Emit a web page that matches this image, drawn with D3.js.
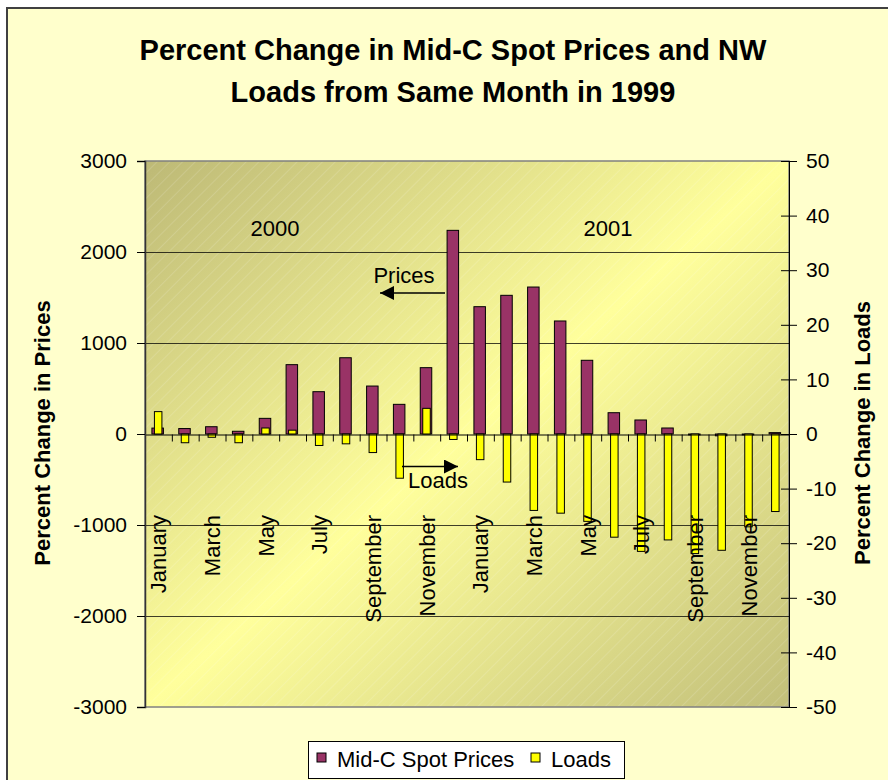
<!DOCTYPE html>
<html>
<head>
<meta charset="utf-8">
<script src="https://cdn.jsdelivr.net/npm/d3@7"></script>
<style>
  body { margin: 0; background: #fff; }
  svg text { font-family: "Liberation Sans", Arial, sans-serif; fill: #000; }
</style>
</head>
<body>
<div id="chart"></div>
<script>
// months of 2000 then 2001, only every other one gets a label
var months = ["January", "February", "March", "April", "May", "June",
  "July", "August", "September", "October", "November", "December"];
var years = ["2000", "2001"];

// % change from same month in 1999
var prices = [65, 60, 80, 30, 172, 762, 465, 838, 527, 326, 729, 2238,
  1399, 1524, 1615, 1242, 810, 234, 154, 66, -10, -20, -10, 15];
var loads = [4.1, -1.6, -0.6, -1.6, 1.1, 0.7, -2.1, -1.8, -3.4, -8.1, 4.7, -1.0,
  -4.7, -8.8, -14.0, -14.5, -16.0, -18.9, -21.5, -19.4, -21.9, -21.3, -17.0, -14.2];

var priceTicks = [-3000, -2000, -1000, 0, 1000, 2000, 3000];
var loadTicks = [-50, -40, -30, -20, -10, 0, 10, 20, 30, 40, 50];
var seriesNames = ["Mid-C Spot Prices", "Loads"];
var colors = ["#993366", "#FFFF00"];

var width = 888, height = 780;
var plot = { left: 145, right: 789, top: 161, bottom: 707 };

var svg = d3.select("#chart").append("svg")
  .attr("width", width).attr("height", height);

// chart frame
svg.append("rect").attr("x", 7).attr("y", 8).attr("width", 900).attr("height", 800)
  .attr("fill", "#FFFFCC").attr("stroke", "#404040").attr("stroke-width", 2);

var defs = svg.append("defs");
var grad = defs.append("linearGradient").attr("id", "plotGrad")
  .attr("x1", 0).attr("y1", 0).attr("x2", 1).attr("y2", 1);
grad.append("stop").attr("offset", 0).attr("stop-color", "#bdb976");
grad.append("stop").attr("offset", 0.5).attr("stop-color", "#ffff9c");
grad.append("stop").attr("offset", 1).attr("stop-color", "#c2bf7a");

var hatch = defs.append("pattern").attr("id", "hatch")
  .attr("patternUnits", "userSpaceOnUse").attr("width", 9).attr("height", 9)
  .attr("patternTransform", "rotate(45)");
hatch.append("line").attr("x1", 0).attr("y1", 0).attr("x2", 0).attr("y2", 9)
  .attr("stroke", "#fff").attr("stroke-opacity", 0.22).attr("stroke-width", 1.2);

var x = d3.scaleBand().domain(d3.range(prices.length))
  .range([plot.left, plot.right]).padding(0);
var xLin = d3.scaleLinear().domain([0, prices.length]).range([plot.left, plot.right]);
var yPrice = d3.scaleLinear().domain([-3000, 3000]).range([plot.bottom, plot.top]);
var yLoad = d3.scaleLinear().domain([-50, 50]).range([plot.bottom, plot.top]);

// plot area
svg.append("rect").attr("x", plot.left).attr("y", plot.top)
  .attr("width", plot.right - plot.left).attr("height", plot.bottom - plot.top)
  .attr("fill", "url(#plotGrad)");
svg.append("rect").attr("x", plot.left).attr("y", plot.top)
  .attr("width", plot.right - plot.left).attr("height", plot.bottom - plot.top)
  .attr("fill", "url(#hatch)").attr("stroke", "#808080").attr("stroke-width", 1.5);

// gridlines
svg.append("g").selectAll("line")
  .data(priceTicks.filter(function (d) { return d !== 0 && Math.abs(d) !== 3000; }))
  .enter().append("line")
  .attr("x1", plot.left).attr("x2", plot.right)
  .attr("y1", function (d) { return yPrice(d) + 0.5; })
  .attr("y2", function (d) { return yPrice(d) + 0.5; })
  .attr("stroke", "#000").attr("stroke-opacity", 0.75).attr("stroke-width", 1);

// bars: prices on the left axis, loads on the right axis, drawn over them
var bw = x.bandwidth();
svg.append("g").selectAll("rect").data(prices).enter().append("rect")
  .attr("x", function (d, i) { return x(i) + bw / 2 - 6.5; })
  .attr("width", 11.5)
  .attr("y", function (d) { return yPrice(Math.max(0, d)); })
  .attr("height", function (d) { return Math.abs(yPrice(d) - yPrice(0)); })
  .attr("fill", colors[0]).attr("stroke", "#000").attr("stroke-width", 1);

svg.append("g").selectAll("rect").data(loads).enter().append("rect")
  .attr("x", function (d, i) { return x(i) + bw / 2 - 4; })
  .attr("width", 7.5)
  .attr("y", function (d) { return yLoad(Math.max(0, d)); })
  .attr("height", function (d) { return Math.abs(yLoad(d) - yLoad(0)); })
  .attr("fill", colors[1]).attr("stroke", "#000").attr("stroke-width", 1);

// category axis along zero
var xAxis = svg.append("g").attr("transform", "translate(0," + (yPrice(0) + 0.5) + ")")
  .call(d3.axisBottom(xLin).tickValues(d3.range(1, prices.length))
    .tickSize(7).tickSizeOuter(0).tickFormat(""));
xAxis.select(".domain").attr("stroke", "#000");

// month labels, every other month
svg.append("g").selectAll("text")
  .data(d3.range(0, prices.length, 2)).enter().append("text")
  .attr("transform", function (i) {
    return "translate(" + (x(i) + bw / 2) + ",515) rotate(-90)";
  })
  .attr("dy", "0.36em").attr("text-anchor", "end")
  .style("font-size", "22px")
  .text(function (i) { return months[i % 12]; });

// left axis
var yl = svg.append("g").attr("transform", "translate(" + plot.left + ",0)")
  .call(d3.axisLeft(yPrice).tickValues(priceTicks).tickSize(8).tickPadding(10)
    .tickFormat(function (d) { return String(d); }));
yl.select(".domain").attr("stroke", "#333").attr("stroke-width", 1.5);
yl.selectAll("text").style("font-size", "21px").attr("fill", "#000");

// right axis, ticks cross the line
var yr = svg.append("g").attr("transform", "translate(" + plot.right + ",0)")
  .call(d3.axisRight(yLoad).tickValues(loadTicks).tickSize(8).tickPadding(9)
    .tickFormat(function (d) { return String(d); }));
yr.selectAll(".tick line").attr("x1", -8);
yr.select(".domain").attr("stroke", "#000");
yr.selectAll("text").style("font-size", "21px").attr("fill", "#000");

// year labels
svg.append("g").selectAll("text").data(years).enter().append("text")
  .attr("x", function (d, i) { return i === 0 ? 275 : 608; })
  .attr("y", 236).attr("text-anchor", "middle")
  .style("font-size", "22px").text(function (d) { return d; });

// arrow notes
var arrowHead = defs.append("marker").attr("id", "arrow")
  .attr("viewBox", "0 0 10 10").attr("refX", 10).attr("refY", 5)
  .attr("markerWidth", 15).attr("markerHeight", 14).attr("markerUnits", "userSpaceOnUse")
  .attr("orient", "auto");
arrowHead.append("path").attr("d", "M0,0L10,5L0,10Z").attr("fill", "#000");

svg.append("line").attr("x1", 445).attr("y1", 293).attr("x2", 380).attr("y2", 293)
  .attr("stroke", "#000").attr("stroke-width", 1.5).attr("marker-end", "url(#arrow)");
svg.append("text").attr("x", 404).attr("y", 283).attr("text-anchor", "middle")
  .style("font-size", "22px").text("Prices");

svg.append("line").attr("x1", 402).attr("y1", 466.5).attr("x2", 458).attr("y2", 466.5)
  .attr("stroke", "#000").attr("stroke-width", 1.5).attr("marker-end", "url(#arrow)");
svg.append("text").attr("x", 438).attr("y", 488).attr("text-anchor", "middle")
  .style("font-size", "22px").text("Loads");

// axis titles
svg.append("text").attr("transform", "translate(42.5,433) rotate(-90)")
  .attr("dy", "0.36em").attr("text-anchor", "middle")
  .style("font-size", "22px").style("font-weight", "bold")
  .text("Percent Change in Prices");
svg.append("text").attr("transform", "translate(862.5,433) rotate(-90)")
  .attr("dy", "0.36em").attr("text-anchor", "middle")
  .style("font-size", "22px").style("font-weight", "bold")
  .text("Percent Change in Loads");

// title
var title = svg.append("text").attr("text-anchor", "middle")
  .style("font-size", "29px").style("font-weight", "bold");
title.append("tspan").attr("x", 453).attr("y", 60).text("Percent Change in Mid-C Spot Prices and NW");
title.append("tspan").attr("x", 453).attr("y", 102).text("Loads from Same Month in 1999");

// legend
var legend = svg.append("g");
legend.append("rect").attr("x", 308.5).attr("y", 741.5).attr("width", 316).attr("height", 37)
  .attr("fill", "#fff").attr("stroke", "#000").attr("stroke-width", 1);
var legX = [317, 531];
seriesNames.forEach(function (name, i) {
  legend.append("rect").attr("x", legX[i]).attr("y", 753).attr("width", 9).attr("height", 9)
    .attr("fill", colors[i]).attr("stroke", "#000").attr("stroke-width", 1);
  legend.append("text").attr("x", legX[i] + 20).attr("y", 767)
    .style("font-size", "22px").text(name);
});
</script>
</body>
</html>
